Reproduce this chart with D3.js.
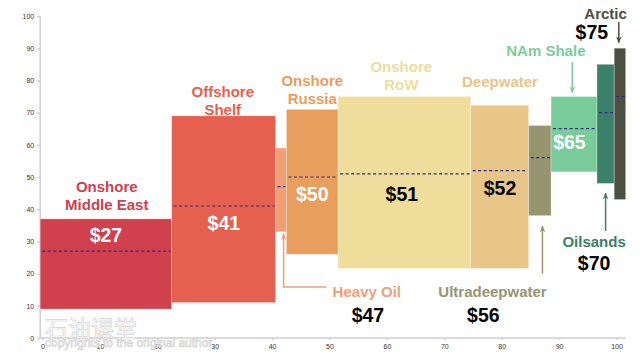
<!DOCTYPE html>
<html>
<head>
<meta charset="utf-8">
<script src="https://cdn.jsdelivr.net/npm/d3@7/dist/d3.min.js"></script>
<style>
  body { margin: 0; background: #fff; }
  svg { display: block; font-family: "Liberation Sans", Arial, sans-serif; }
  .axis path, .axis line { stroke: #cfcfcf; stroke-width: 1.5; }
  .axis text { fill: #333; font-size: 7px; }
</style>
</head>
<body>
<div id="chart"></div>
<script>
// cost curve: cumulative volume edges, price range and average breakeven
var names   = ["Onshore Middle East", "Offshore Shelf", "Heavy Oil", "Onshore Russia", "Onshore RoW",
               "Deepwater", "Ultradeepwater", "NAm Shale", "Oilsands", "Arctic"];
var edges   = [-0.4, 22.5, 40.6, 42.5, 51.5, 74.6, 84.7, 88.6, 96.6, 99.6, 101.6];
var lows    = [9, 11, 33, 26, 21.6, 21.6, 38, 51.6, 48, 43];
var highs   = [37, 69, 59, 71, 75, 72.3, 66, 75, 85, 90];
var avgs    = [27, 41, 47, 50, 51, 52, 56, 65, 70, 75];
var colors  = ["#d0404d", "#e5604f", "#f0a078", "#e89e5d", "#eedd9b",
               "#e7c688", "#999470", "#7bcc9b", "#3b8068", "#4b5042"];
var xTicks  = [0, 10, 20, 30, 40, 50, 60, 70, 80, 90, 100];
var yTicks  = [0, 10, 20, 30, 40, 50, 60, 70, 80, 90, 100];

var width = 640, height = 362;

var svg = d3.select("#chart").append("svg")
  .attr("width", width)
  .attr("height", height);

var x = d3.scaleLinear().domain([0, 100]).range([42.5, 616.5]);
var y = d3.scaleLinear().domain([0, 100]).range([338, 16]);

var defs = svg.append("defs");
colors.forEach(function(c, i) {
  defs.append("marker")
    .attr("id", "arr" + i)
    .attr("viewBox", "0 0 10 10")
    .attr("refX", 9).attr("refY", 5)
    .attr("markerWidth", 7).attr("markerHeight", 7)
    .attr("markerUnits", "userSpaceOnUse")
    .attr("orient", "auto")
    .append("path")
    .attr("d", "M0,1 L10,5 L0,9 L3,5 Z")
    .attr("fill", c);
});

// axes
svg.append("g")
  .attr("class", "axis")
  .attr("transform", "translate(" + x(edges[0]) + ",0)")
  .call(d3.axisLeft(y).tickValues(yTicks).tickSize(3).tickPadding(3))
  .call(function(g) { g.select(".domain").attr("d", "M0," + y(100) + "V" + y(0)); });

svg.append("g")
  .attr("class", "axis")
  .attr("transform", "translate(0," + y(0) + ")")
  .call(d3.axisBottom(x).tickValues(xTicks).tickSize(2).tickPadding(4))
  .call(function(g) { g.select(".domain").attr("d", "M" + x(edges[0]) + ",0H" + x(edges[edges.length - 1])); });

// watermark
var wm = svg.append("g").attr("fill", "#fff").attr("stroke", "#d2d2d2").attr("stroke-width", 0.7);
wm.append("text").attr("x", 45).attr("y", 337)
  .style("font-family", "'Noto Sans CJK SC'").style("font-size", "23px").text("石油课堂");
wm.append("text").attr("x", 45).attr("y", 347)
  .style("font-size", "12px").text("copyrights to the original author");

var data = names.map(function(n, i) {
  return { name: n, x0: edges[i], x1: edges[i + 1], lo: lows[i], hi: highs[i], avg: avgs[i], color: colors[i] };
});

svg.selectAll(".bar")
  .data(data)
  .enter().append("rect")
  .attr("class", "bar")
  .attr("x", function(d) { return x(d.x0); })
  .attr("width", function(d) { return x(d.x1) - x(d.x0); })
  .attr("y", function(d) { return y(d.hi); })
  .attr("height", function(d) { return y(d.lo) - y(d.hi); })
  .attr("fill", function(d) { return d.color; })
  .attr("stroke", "#fff")
  .attr("stroke-opacity", 0.35)
  .attr("stroke-width", 0.8);

svg.selectAll(".avg")
  .data(data)
  .enter().append("line")
  .attr("class", "avg")
  .attr("x1", function(d) { return x(d.x0) + 2; })
  .attr("x2", function(d) { return x(d.x1) - 1; })
  .attr("y1", function(d) { return y(d.avg); })
  .attr("y2", function(d) { return y(d.avg); })
  .attr("stroke", "#2e2a8c")
  .attr("stroke-width", 1.2)
  .attr("stroke-dasharray", "3,2.5");

// labels: [bar index, lines, x, y (data units)]
var nameLabels = [
  [0, ["Onshore", "Middle East"], 11.2, 45.2],
  [1, ["Offshore", "Shelf"], 31.4, 75.0],
  [2, ["Heavy Oil"], 56.5, 12.7],
  [3, ["Onshore", "Russia"], 47.0, 78.3],
  [4, ["Onshore", "RoW"], 62.5, 82.7],
  [5, ["Deepwater"], 79.7, 77.9],
  [6, ["Ultradeepwater"], 78.4, 12.7],
  [7, ["NAm Shale"], 87.7, 87.7],
  [8, ["Oilsands"], 96.1, 28.3],
  [9, ["Arctic"], 98.1, 99.1]
];
var valueLabels = [
  [0, 11.05, 29.8, "#fff"],
  [1, 31.6, 33.5, "#fff"],
  [2, 56.7, 5.0, "#000"],
  [3, 47.0, 42.5, "#fff"],
  [4, 62.6, 42.5, "#000"],
  [5, 79.7, 44.4, "#000"],
  [6, 76.8, 5.0, "#000"],
  [7, 91.8, 58.7, "#fff"],
  [8, 96.1, 21.1, "#000"],
  [9, 95.7, 92.8, "#000"]
];

nameLabels.forEach(function(l) {
  var t = svg.append("text")
    .attr("x", x(l[2])).attr("y", y(l[3]))
    .attr("text-anchor", "middle")
    .attr("fill", colors[l[0]])
    .style("font-size", "15px").style("font-weight", "bold");
  l[1].forEach(function(s, k) {
    t.append("tspan").attr("x", x(l[2])).attr("dy", k ? 18 : 0).text(s);
  });
});

valueLabels.forEach(function(l) {
  svg.append("text")
    .attr("x", x(l[1])).attr("y", y(l[2]))
    .attr("text-anchor", "middle")
    .attr("fill", l[3])
    .style("font-size", "19.5px").style("font-weight", "bold")
    .text("$" + avgs[l[0]]);
});

// pointer arrows: [bar index, points in data units]
var arrows = [
  [2, [[49.5, 15.8], [42.0, 15.8], [42.0, 32.4]]],
  [6, [[87.1, 20.0], [87.1, 34.8]]],
  [7, [[92.3, 85.7], [92.3, 76.2]]],
  [8, [[98.1, 33.2], [98.1, 45.0]]],
  [9, [[100.4, 98.1], [100.4, 91.7]]]
];
var line = d3.line().x(function(p) { return x(p[0]); }).y(function(p) { return y(p[1]); });
arrows.forEach(function(a) {
  svg.append("path")
    .attr("d", line(a[1]))
    .attr("fill", "none")
    .attr("stroke", colors[a[0]])
    .attr("stroke-width", 1.5)
    .attr("marker-end", "url(#arr" + a[0] + ")");
});
</script>
</body>
</html>
